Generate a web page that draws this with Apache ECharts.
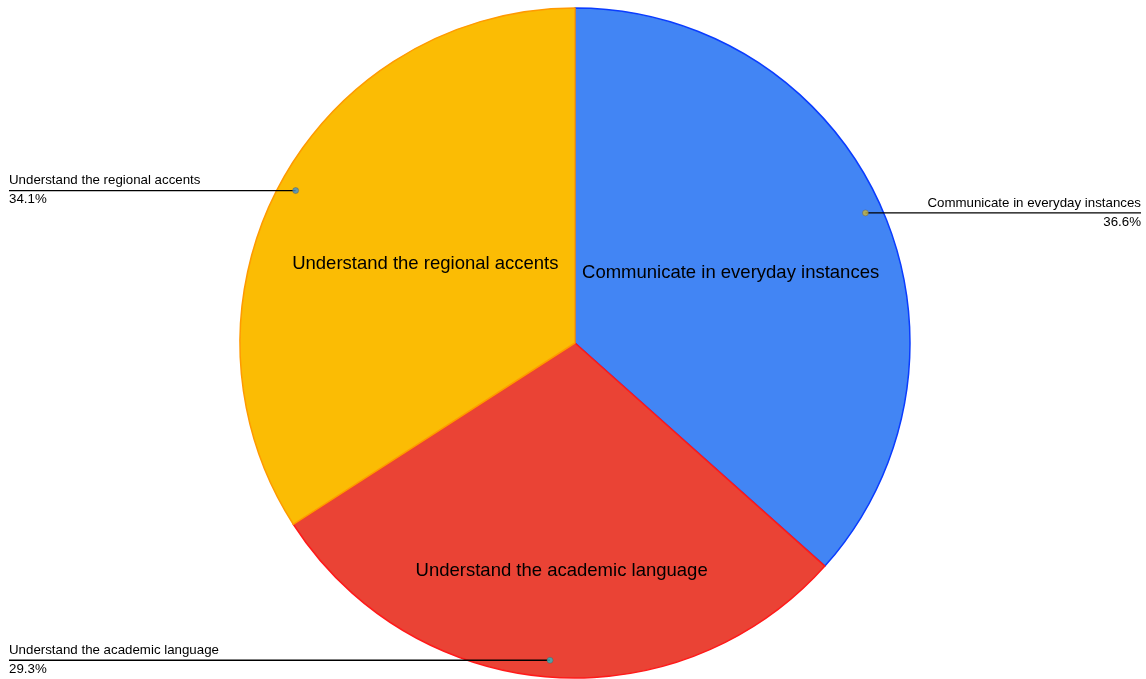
<!DOCTYPE html>
<html>
<head>
<meta charset="utf-8">
<script src="https://cdn.jsdelivr.net/npm/echarts@6/dist/echarts.min.js"></script>
<style>
  html, body { margin: 0; padding: 0; background: #fff; }
  #chart { width: 1146px; height: 679px; }
</style>
</head>
<body>
<div id="chart"></div>
<script>
  // data
  const categories = ['Communicate in everyday instances', 'Understand the academic language', 'Understand the regional accents']
  const shares = [36.6, 29.3, 34.1]
  const sliceColors = ['#4285F4', '#EA4335', '#FBBC04']
  const borderColors = ['#0a3cff', '#ff1a1a', '#ff9a00']
  const dotColors = ['#c9b43a', '#2bb8c2', '#3d8fd6']

  const font = '"Liberation Sans", Arial, sans-serif'
  const center = [575, 343]
  const radius = 335

  const pieData = categories.map((name, i) => ({
    name: name,
    value: shares[i],
    itemStyle: { color: sliceColors[i], borderColor: borderColors[i], borderWidth: 1.5 }
  }))

  // dot positions (mid angle of each slice, in cumulative percent)
  let acc = 0
  const dots = shares.map((v, i) => {
    const mid = acc + v / 2
    acc += v
    return { value: [0.95, mid], itemStyle: { color: dotColors[i], borderColor: '#555', borderWidth: 0.5 } }
  })

  const chart = echarts.init(document.getElementById('chart'))
  chart.setOption({
    animation: false,
    backgroundColor: '#fff',
    polar: { center: center, radius: radius },
    radiusAxis: { min: 0, max: 1, show: false },
    angleAxis: { type: 'value', min: 0, max: 100, startAngle: 90, clockwise: true, show: false },
    series: [
      {
        name: 'main',
        type: 'pie',
        center: center,
        radius: [0, radius],
        startAngle: 90,
        clockwise: true,
        data: pieData,
        label: {
          show: true,
          position: 'inside',
          formatter: '{b}',
          color: '#000',
          fontSize: 18.5,
          fontFamily: font
        },
        labelLayout: function (p) {
          if (p.dataIndex === 1) return { dy: 58 }
          if (p.dataIndex === 2) return { dy: 3 }
          return {}
        },
        labelLine: { show: false },
        emphasis: { disabled: true },
        z: 1
      },
      {
        name: 'labels',
        type: 'pie',
        center: center,
        radius: [0, radius * 0.95],
        startAngle: 90,
        clockwise: true,
        silent: true,
        data: categories.map((name, i) => ({
          name: name,
          value: shares[i],
          label: { edgeDistance: i === 0 ? 5 : 9 }
        })),
        itemStyle: { color: 'transparent', borderWidth: 0 },
        label: {
          show: true,
          position: 'outside',
          alignTo: 'edge',
          edgeDistance: 7,
          formatter: p => '{n|' + p.name + '}\n{p|' + p.value.toFixed(1) + '%}',
          rich: {
            n: { fontSize: 13.3, fontFamily: font, color: '#000', lineHeight: 18 },
            p: { fontSize: 13.3, fontFamily: font, color: '#000', lineHeight: 20 }
          }
        },
        labelLine: {
          show: true,
          length: 0,
          length2: 20,
          lineStyle: { color: '#000', width: 1.3 }
        },
        labelLayout: function (params) {
          const isLeft = params.labelRect.x < chart.getWidth() / 2
          const points = params.labelLinePoints
          points[2][0] = isLeft ? params.labelRect.x : params.labelRect.x + params.labelRect.width
          return { labelLinePoints: points }
        },
        emphasis: { disabled: true },
        z: 3
      },
      {
        name: 'dots',
        type: 'scatter',
        coordinateSystem: 'polar',
        symbolSize: 6,
        silent: true,
        data: dots,
        z: 4
      }
    ]
  })
</script>
</body>
</html>
